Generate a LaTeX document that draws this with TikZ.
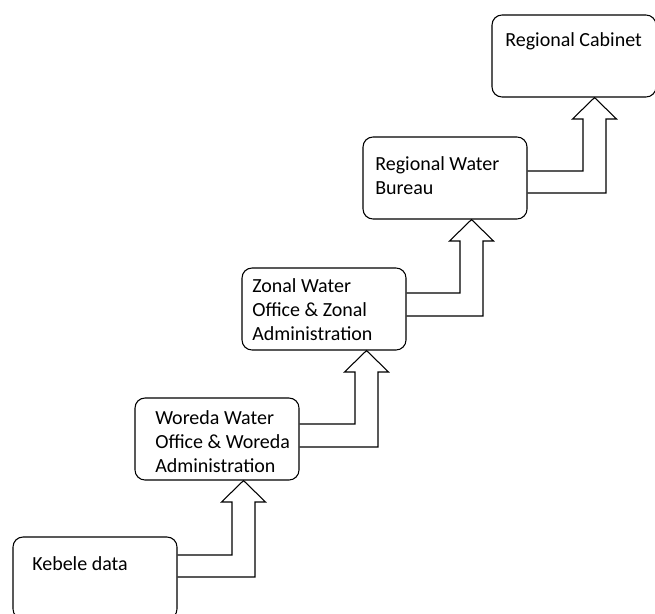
\documentclass[tikz,border=0pt]{standalone}
\usepackage{fontspec}
\setmainfont{Carlito}
\begin{document}
\begin{tikzpicture}[x=0.75pt,y=-0.75pt,
  box/.style={draw=black,line width=0.8pt,rounded corners=7.5pt,minimum width=123pt,minimum height=61.5pt,inner sep=0pt},
  lbl/.style={anchor=base west,inner sep=0pt,font=\fontsize{15pt}{18pt}\selectfont},
  uparrow/.style={draw=black,line width=0.8pt,line join=miter}]
\clip (0,0) rectangle (655,613);
\fill[white] (0,0) rectangle (655,613);
% boxes
\node[box] (k) at (95,578) {};
\node[box] (w) at (217,439) {};
\node[box] (z) at (324,309) {};
\node[box] (r) at (445,178) {};
\node[box] (c) at (574,56) {};
% labels
\node[lbl] (kt) at (32,570) {Kebele data};
\node[lbl] (wt1) at (155,424) {Woreda Water};
\node[lbl] (wt2) at (155,448) {Office \& Woreda};
\node[lbl] (wt3) at (155,472) {Administration};
\node[lbl] (zt1) at (252,292) {Zonal Water};
\node[lbl] (zt2) at (252,316) {Office \& Zonal};
\node[lbl] (zt3) at (252,340) {Administration};
\node[lbl] (rt1) at (375,170) {Regional Water};
\node[lbl] (rt2) at (375,194) {Bureau};
\node[lbl] (ct) at (505,47) {Regional Cabinet};
% arrows
\draw[uparrow] (k.east |- 0,555) -- (232,555) -- (232,502) -- (221.5,502) -- (w.south -| 243.5,0) -- (265.5,502) -- (255,502) -- (255,577) -- (k.east |- 0,577);
\draw[uparrow] (w.east |- 0,424) -- (355,424) -- (355,372) -- (344.5,372) -- (z.south -| 366.5,0) -- (388.5,372) -- (378,372) -- (378,447) -- (w.east |- 0,447);
\draw[uparrow] (z.east |- 0,293) -- (460,293) -- (460,241) -- (449.5,241) -- (r.south -| 471.5,0) -- (493.5,241) -- (483,241) -- (483,316) -- (z.east |- 0,316);
\draw[uparrow] (r.east |- 0,171) -- (583,171) -- (583,119) -- (572.5,119) -- (c.south -| 594.5,0) -- (616.5,119) -- (606,119) -- (606,193) -- (r.east |- 0,193);
\end{tikzpicture}
\end{document}
